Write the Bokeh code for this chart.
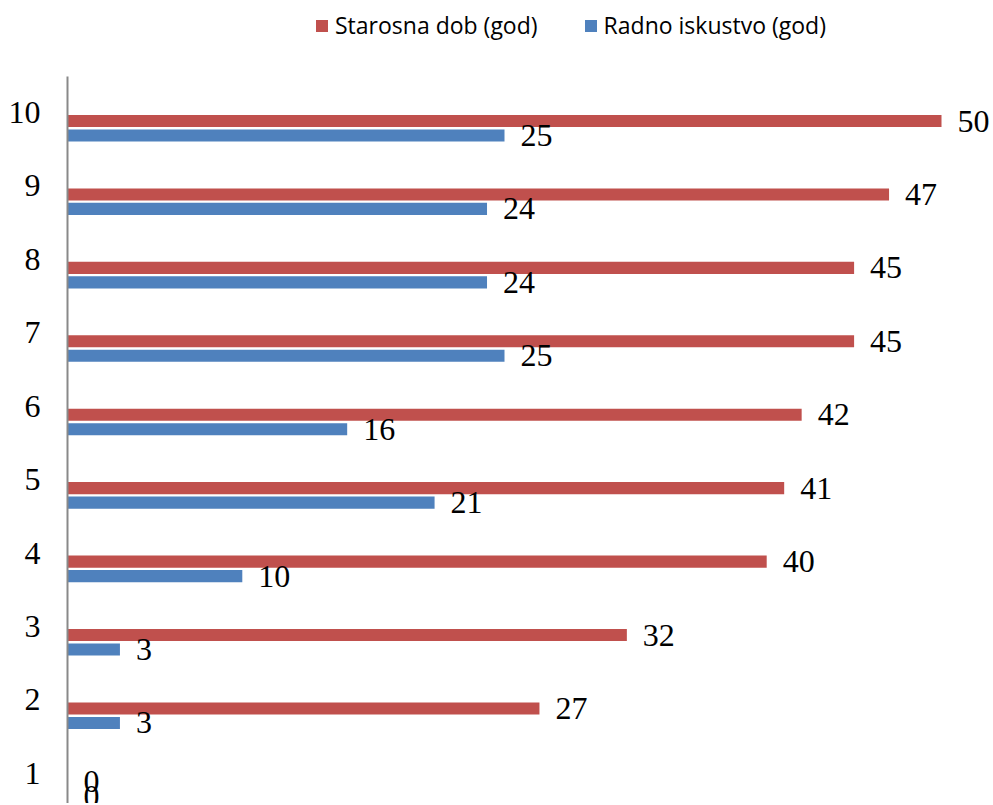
from bokeh.plotting import figure
from bokeh.layouts import column
from bokeh.models import ColumnDataSource, LabelSet, Legend, LegendItem, Range1d, FixedTicker
from bokeh.embed import file_html
from bokeh.resources import INLINE

categories = [1, 2, 3, 4, 5, 6, 7, 8, 9, 10]
starosna_dob = [0, 27, 32, 40, 41, 42, 45, 45, 47, 50]
radno_iskustvo = [0, 3, 3, 10, 21, 16, 25, 24, 24, 25]
series_names = ["Starosna dob (god)", "Radno iskustvo (god)"]
colors = ["#C0504D", "#4F81BD"]

bar_h = 0.165
off_red = -0.116
off_blue = -0.313

src_red = ColumnDataSource(dict(y=[c + off_red for c in categories], v=starosna_dob,
                                t=[str(v) for v in starosna_dob]))
src_blue = ColumnDataSource(dict(y=[c + off_blue for c in categories], v=radno_iskustvo,
                                 t=[str(v) for v in radno_iskustvo]))

W = 991
BL = 67
# ---- legend strip (its bars lie outside its visible ranges; only the legend shows) ----
leg = figure(width=W, height=76, output_backend="svg", toolbar_location=None,
             x_range=Range1d(-1000, -999), y_range=Range1d(1000, 1001),
             min_border_left=0, min_border_right=0, min_border_top=0, min_border_bottom=0)
leg.outline_line_color = None
leg.xaxis.visible = False
leg.yaxis.visible = False
leg.xgrid.visible = False
leg.ygrid.visible = False
d1 = leg.hbar(y="y", right="v", left=0, height=bar_h, source=src_red, fill_color=colors[0], line_color=None)
d2 = leg.hbar(y="y", right="v", left=0, height=bar_h, source=src_blue, fill_color=colors[1], line_color=None)
legend = Legend(items=[LegendItem(label=series_names[0], renderers=[d1]),
                       LegendItem(label=series_names[1], renderers=[d2])],
                orientation="horizontal", location=(316 - BL - 2, 35),
                glyph_width=15, glyph_height=15, label_standoff=6, spacing=45,
                padding=0, margin=0, border_line_color=None, background_fill_alpha=0,
                label_text_font="Open Sans", label_text_font_size="23px",
                label_text_color="black", label_height=15)
leg.add_layout(legend, "center")

# ---- main chart ----
frame_w = W - BL
p = figure(width=W, height=727, output_backend="svg", toolbar_location=None,
           x_range=Range1d(0, frame_w / 17.48), y_range=Range1d(0.59, 10.49),
           min_border_left=BL, min_border_right=0, min_border_top=0, min_border_bottom=0)
p.outline_line_color = None
p.xgrid.visible = False
p.ygrid.visible = False
p.xaxis.visible = False

p.hbar(y="y", right="v", left=0, height=bar_h, source=src_red, fill_color=colors[0], line_color=None)
p.hbar(y="y", right="v", left=0, height=bar_h, source=src_blue, fill_color=colors[1], line_color=None)

for src in (src_red, src_blue):
    p.add_layout(LabelSet(x="v", y="y", text="t", source=src, x_offset=16,
                          text_baseline="middle", text_align="left",
                          text_font="Liberation Serif", text_font_size="32px", text_color="black"))

yax = p.yaxis[0]
yax.ticker = FixedTicker(ticks=categories)
yax.major_tick_line_color = None
yax.minor_tick_line_color = None
yax.major_tick_out = 0
yax.major_tick_in = 0
yax.major_label_standoff = 27
yax.axis_line_color = "#898989"
yax.axis_line_width = 2
yax.major_label_text_font = "Liberation Serif"
yax.major_label_text_font_size = "32px"
yax.major_label_text_color = "black"

layout = column(leg, p, spacing=0)
open("out.html", "w").write(file_html(layout, INLINE))
